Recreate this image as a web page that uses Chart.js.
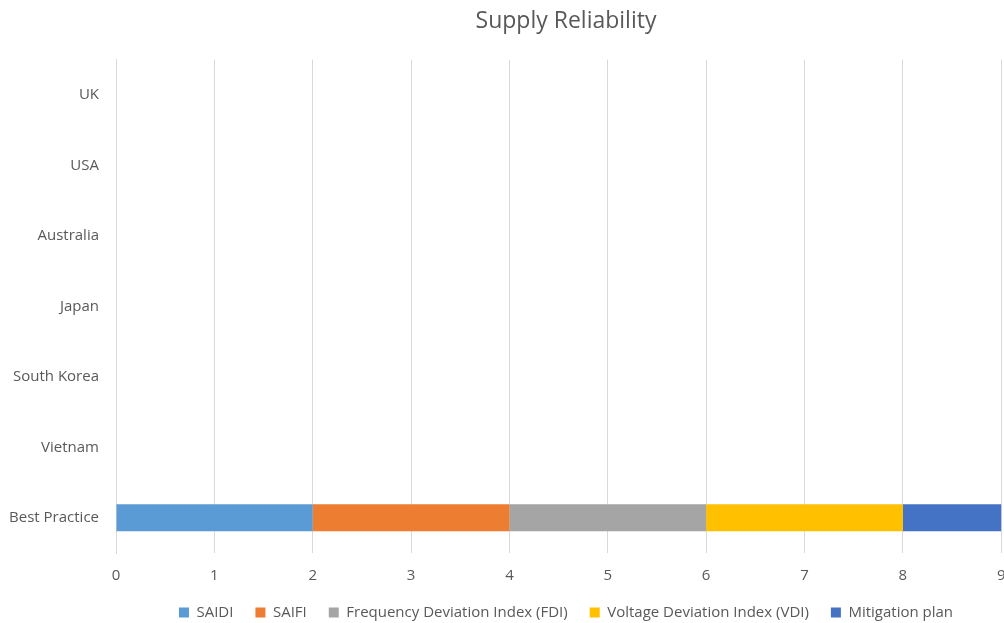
<!DOCTYPE html>
<html>
<head>
<meta charset="utf-8">
<script src="https://cdn.jsdelivr.net/npm/chart.js@4"></script>
<style>
  html, body { margin: 0; padding: 0; background: #ffffff; overflow: hidden; }
  #wrap { width: 1004px; height: 623px; overflow: hidden; }
</style>
</head>
<body>
<div id="wrap"><canvas id="chart" width="1132" height="623"></canvas></div>
<script>
const categories = ['UK', 'USA', 'Australia', 'Japan', 'South Korea', 'Vietnam', 'Best Practice'];
const saidi = [null, null, null, null, null, null, 2];
const saifi = [null, null, null, null, null, null, 2];
const fdi = [null, null, null, null, null, null, 2];
const vdi = [null, null, null, null, null, null, 2];
const mitigation = [null, null, null, null, null, null, 1];
const xTicks = [0, 1, 2, 3, 4, 5, 6, 7, 8, 9, 10];

const textColor = '#595959';
const gridColor = '#d9d9d9';

function makeSet(label, data, color) {
    return {
        label: label,
        data: data,
        backgroundColor: color,
        borderWidth: 0,
        categoryPercentage: 1.0,
        barPercentage: 0.385
    };
}

const ctx = document.getElementById('chart').getContext('2d');
new Chart(ctx, {
    type: 'bar',
    data: {
        labels: categories,
        datasets: [
            makeSet('SAIDI', saidi, '#5b9bd5'),
            makeSet('SAIFI', saifi, '#ed7d31'),
            makeSet('Frequency Deviation Index (FDI)', fdi, '#a5a5a5'),
            makeSet('Voltage Deviation Index (VDI)', vdi, '#ffc000'),
            makeSet('Mitigation plan', mitigation, '#4472c4')
        ]
    },
    options: {
        indexAxis: 'y',
        responsive: false,
        animation: false,
        layout: { padding: { left: 0, right: 0, top: 0, bottom: -7 } },
        plugins: {
            title: {
                display: true,
                text: 'Supply Reliability',
                color: textColor,
                font: { family: 'Open Sans', size: 23, weight: 'normal' },
                padding: { top: 8, bottom: 24 }
            },
            legend: {
                position: 'bottom',
                labels: {
                    color: textColor,
                    font: { family: 'Open Sans', size: 15 },
                    boxWidth: 10,
                    boxHeight: 10,
                    padding: 22
                }
            },
            tooltip: { enabled: false }
        },
        scales: {
            x: {
                stacked: true,
                min: 0,
                max: 10.33, // axis runs a little past 10, beyond the cropped right edge
                afterBuildTicks: (scale) => { scale.ticks = xTicks.map(v => ({ value: v })); },
                afterFit: (scale) => { scale.height = 30; },
                ticks: {
                    color: textColor,
                    font: { family: 'Open Sans', size: 15 },
                    padding: 14
                },
                grid: { color: gridColor, drawTicks: false },
                border: { display: false }
            },
            y: {
                stacked: true,
                afterFit: (scale) => { scale.width = 116; },
                ticks: {
                    color: textColor,
                    font: { family: 'Open Sans', size: 15 },
                    padding: 17
                },
                grid: { display: false, drawTicks: false },
                border: { display: true, color: gridColor }
            }
        }
    }
});
</script>
</body>
</html>
